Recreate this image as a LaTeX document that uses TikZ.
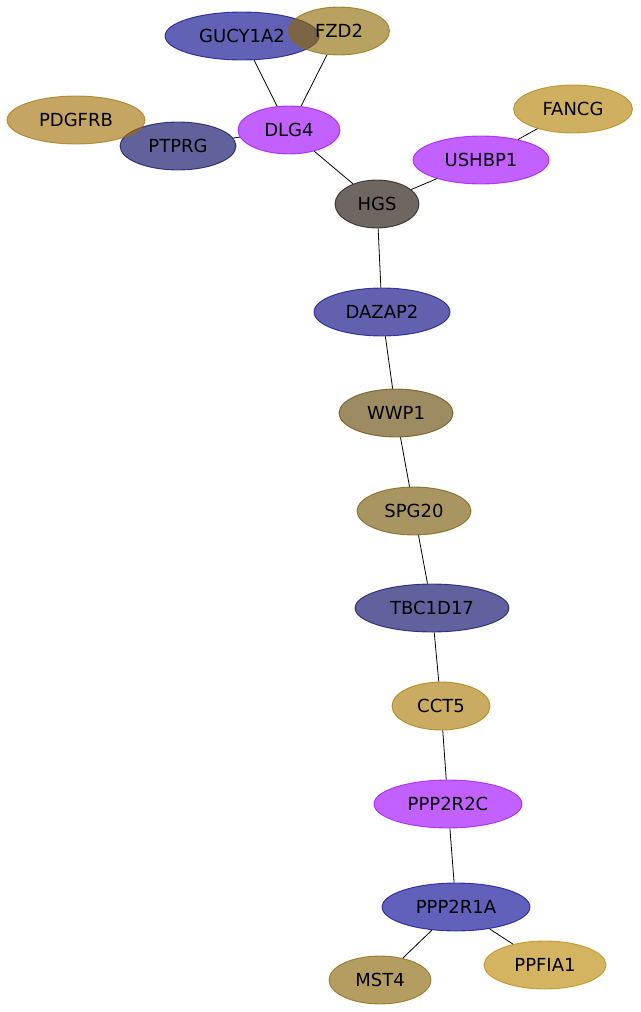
\documentclass[tikz,border=0pt]{standalone}
\usepackage{fontspec}
\setmainfont{DejaVu Sans}
\usetikzlibrary{shapes.geometric}
\definecolor{cgucy}{RGB}{0,0,137}
\definecolor{cfzd}{RGB}{142,105,0}
\definecolor{cpdg}{RGB}{160,110,0}
\definecolor{cptp}{RGB}{0,0,94}
\definecolor{cmag}{RGB}{158,0,255}
\definecolor{cfan}{RGB}{179,128,0}
\definecolor{chgs}{RGB}{21,11,0}
\definecolor{cdaz}{RGB}{0,0,128}
\definecolor{cwwp}{RGB}{98,68,0}
\definecolor{cspg}{RGB}{115,84,0}
\definecolor{ctbc}{RGB}{0,0,99}
\definecolor{ccct}{RGB}{168,121,0}
\definecolor{cppa}{RGB}{0,0,147}
\definecolor{cmst}{RGB}{134,98,0}
\definecolor{cppf}{RGB}{186,134,0}
\tikzset{
  gnode/.style={ellipse, draw=#1, fill=#1, line width=0.9pt, fill opacity=0.62, draw opacity=0.7,
    text opacity=1, inner sep=0pt, minimum height=48pt,
    font=\fontsize{18}{20}\selectfont, text=black},
  edge/.style={draw=black, line width=0.8pt}
}
\begin{document}
\begin{tikzpicture}[x=1pt,y=-1pt]
\useasboundingbox (0,0) rectangle (640,1012);
\fill[white] (0,0) rectangle (640,1012);
% nodes
\node[gnode=cgucy, minimum width=154pt] (GUCY) at (242,36) {GUCY1A2};
\node[gnode=cfzd, minimum width=101pt] (FZD2) at (339,31) {FZD2};
\node[gnode=cptp, minimum width=116pt] (PTPRG) at (178,146) {PTPRG};
\node[gnode=cpdg, minimum width=138pt] (PDGFRB) at (76,120) {PDGFRB};
\node[gnode=cmag, minimum width=102pt] (DLG4) at (289,130) {DLG4};
\node[gnode=cfan, minimum width=119pt] (FANCG) at (573,109) {FANCG};
\node[gnode=cmag, minimum width=136pt] (USHBP1) at (481,160) {USHBP1};
\node[gnode=chgs, minimum width=84pt] (HGS) at (377,204) {HGS};
\node[gnode=cdaz, minimum width=136pt] (DAZAP2) at (382,312) {DAZAP2};
\node[gnode=cwwp, minimum width=114pt] (WWP1) at (396,413) {WWP1};
\node[gnode=cspg, minimum width=114pt] (SPG20) at (414,511) {SPG20};
\node[gnode=ctbc, minimum width=154pt] (TBC) at (432,608) {TBC1D17};
\node[gnode=ccct, minimum width=98pt] (CCT5) at (441,706) {CCT5};
\node[gnode=cmag, minimum width=148pt] (PPP2R2C) at (448,804) {PPP2R2C};
\node[gnode=cppa, minimum width=148pt] (PPP2R1A) at (456,907) {PPP2R1A};
\node[gnode=cmst, minimum width=102pt] (MST4) at (380,980) {MST4};
\node[gnode=cppf, minimum width=122pt] (PPFIA1) at (545,965) {PPFIA1};
% edges
\draw[edge] (GUCY) -- (DLG4);
\draw[edge] (FZD2) -- (DLG4);
\draw[edge] (PTPRG) -- (DLG4);
\draw[edge] (DLG4) -- (HGS);
\draw[edge] (USHBP1) -- (HGS);
\draw[edge] (FANCG) -- (USHBP1);
\draw[edge] (HGS) -- (DAZAP2);
\draw[edge] (DAZAP2) -- (WWP1);
\draw[edge] (WWP1) -- (SPG20);
\draw[edge] (SPG20) -- (TBC);
\draw[edge] (TBC) -- (CCT5);
\draw[edge] (CCT5) -- (PPP2R2C);
\draw[edge] (PPP2R2C) -- (PPP2R1A);
\draw[edge] (PPP2R1A) -- (MST4);
\draw[edge] (PPP2R1A) -- (PPFIA1);
\end{tikzpicture}
\end{document}
